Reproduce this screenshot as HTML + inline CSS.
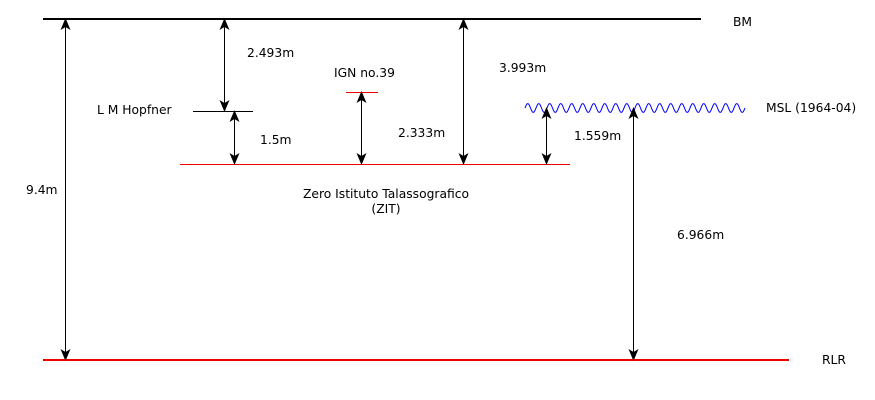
<!DOCTYPE html>
<html><head><meta charset="utf-8"><style>
html,body{margin:0;padding:0;background:#fff}
svg{display:block}
text{font-family:"DejaVu Sans","Liberation Sans",sans-serif;font-size:12.3px;fill:#000}
</style></head><body>
<svg id="d" width="875" height="400">
<defs>
<marker id="ah" viewBox="0 0 12 10" refX="11" refY="5" markerWidth="12" markerHeight="10" markerUnits="userSpaceOnUse" orient="auto-start-reverse">
<path d="M0,0 L12,5 L0,10 L3,5 Z" fill="#000"/>
</marker>
</defs>
<line x1="43" y1="19" x2="701" y2="19" stroke="#000" stroke-width="2"/>
<text x="733" y="26">BM</text>
<line x1="43" y1="360" x2="789" y2="360" stroke="#e00" stroke-width="2"/>
<text x="822" y="364">RLR</text>
<line x1="180" y1="164.5" x2="570" y2="164.5" stroke="#e00" stroke-width="1"/>
<line x1="193" y1="111.5" x2="253" y2="111.5" stroke="#000" stroke-width="1"/>
<line x1="346" y1="92.5" x2="378" y2="92.5" stroke="#e00" stroke-width="1"/>
<path id="wave" fill="none" stroke="#00f" stroke-width="1"/>
<text x="97" y="114">L M Hopfner</text>
<text x="334" y="77">IGN no.39</text>
<text x="766" y="112">MSL (1964-04)</text>
<text x="386" y="198" text-anchor="middle">Zero Istituto Talassografico</text>
<text x="386" y="213" text-anchor="middle">(ZIT)</text>
<g id="arrows"></g>
</svg>
<script>
const arrowX=[65,224,234,361,463,546,633];
const arrowTop=[19,19,111,92,19,108,108];
const arrowBot=[360,111,164,164,164,164,360];
const arrowLabels=["9.4m","2.493m","1.5m","2.333m","3.993m","1.559m","6.966m"];
const labelX=[26,247,260,398,499,574,677];
const labelY=[194,57,144,137,72,140,239];
const ns="http://www.w3.org/2000/svg";
const g=document.getElementById('arrows');
for(let i=0;i<arrowX.length;i++){
  const l=document.createElementNS(ns,'line');
  l.setAttribute('x1',arrowX[i]+0.5);l.setAttribute('x2',arrowX[i]+0.5);
  l.setAttribute('y1',arrowTop[i]);l.setAttribute('y2',arrowBot[i]);
  l.setAttribute('stroke','#000');l.setAttribute('stroke-width','1');
  l.setAttribute('marker-start','url(#ah)');l.setAttribute('marker-end','url(#ah)');
  
  
  g.appendChild(l);
  const t=document.createElementNS(ns,'text');
  t.setAttribute('x',labelX[i]);t.setAttribute('y',labelY[i]);
  t.textContent=arrowLabels[i];
  
  
  g.appendChild(t);
}
let d="";
for(let x=525;x<=745;x+=1){
  const y=108-4.5*Math.sin((x-525)/11*2*Math.PI);
  d+=(x===525?"M":"L")+x+","+y.toFixed(2);
}
document.getElementById('wave').setAttribute('d',d);
</script>
</body></html>
